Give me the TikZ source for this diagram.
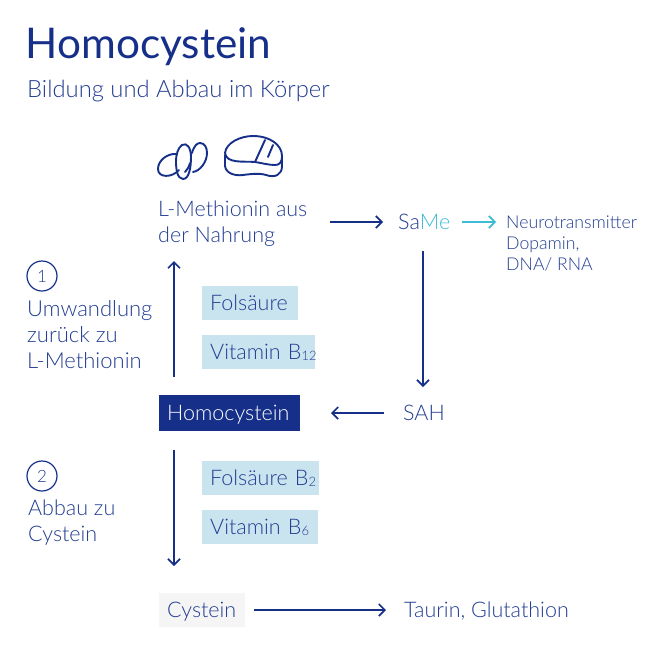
\documentclass[tikz,border=0pt]{standalone}
\usepackage{fontspec}
\setmainfont{Lato}[UprightFont=* Light,BoldFont=* Regular]
\usetikzlibrary{arrows.meta}
\definecolor{navy}{HTML}{16308A}
\definecolor{txt}{HTML}{233E92}
\definecolor{cyanl}{HTML}{3DBBD6}
\definecolor{boxb}{HTML}{C9E4EF}
\definecolor{boxg}{HTML}{F5F5F5}
\newcommand{\subn}[1]{\raisebox{-1.5pt}{\fontsize{13}{13}\selectfont #1}}
\tikzset{
 lbl/.style={anchor=west,inner sep=0pt,text=txt,font=\fontsize{21.5}{26}\selectfont,align=left},
 small/.style={anchor=west,inner sep=0pt,text=txt,font=\fontsize{17.7}{21}\selectfont,align=left},
 tbox/.style={anchor=west,inner ysep=0pt,inner xsep=8pt,align=left,font=\fontsize{21.5}{24}\selectfont,text height=17pt,text depth=3pt,text width=#1pt-16pt},
 vbox/.style={tbox=#1,fill=boxb,text=txt,minimum height=34pt},
 arr/.style={draw=navy,line width=1.7pt,-{Straight Barb[length=6pt,width=12pt,line width=1.7pt]}},
 carr/.style={draw=cyanl,line width=1.7pt,-{Straight Barb[length=6pt,width=12pt,line width=1.7pt]}},
 num/.style={circle,draw=navy,line width=1.2pt,minimum size=30pt,inner sep=0pt,text=txt,font=\fontsize{17}{20}\selectfont},
 icon/.style={draw=navy,line width=1.9pt,line join=round,line cap=round},
}
\begin{document}
\begin{tikzpicture}[x=1pt,y=-1pt]
\useasboundingbox (0,0) rectangle (664,664);
\fill[white] (0,0) rectangle (664,664);
\node[anchor=west,inner sep=0pt,text=navy,font=\bfseries\fontsize{42.3}{48}\selectfont] (title) at (25.5,47) {Homocystein};
\node[lbl,font=\fontsize{23.8}{26}\selectfont] (sub) at (27,91) {Bildung und Abbau im Körper};

% food icons
\draw[icon] (177,154) .. controls (168,153) and (158,160) .. (158,169) .. controls (158,178) and (172,178) .. (179,170);
\draw[icon] (182,145) .. controls (187,142) and (191,148) .. (191,157) .. controls (191,168) and (189,179) .. (183,179) .. controls (177,179) and (176,168) .. (176,162) .. controls (176,154) and (178,148) .. (182,145) -- cycle;
\draw[icon] (192,153) .. controls (194,146) and (197,143) .. (200,143) .. controls (205,143) and (207,148) .. (207,153) .. controls (207,162) and (200,171) .. (193,172);
\draw[icon] (190,163) .. controls (189,167) and (187,170) .. (185,172);
\draw[icon] (225,153) .. controls (226,143) and (240,136) .. (253,136) .. controls (270,136) and (282,145) .. (282,156) .. controls (282,163) and (279,165) .. (275,165) .. controls (268,165) and (262,163) .. (255,162) .. controls (245,161) and (226,164) .. (225,153) -- cycle;
\draw[icon] (225,155) -- (225,166) .. controls (226,174) and (236,176) .. (243,175) .. controls (250,174) and (260,173) .. (266,175) .. controls (275,178) and (282,175) .. (282,166) -- (282,156);
\draw[icon] (265,140) -- (255,162);
\draw[icon] (273,145) -- (268,157);

\node[lbl] (met) at (158,224) {L-Methionin aus\\der Nahrung};
\node[lbl] (same) at (398,222) {Sa\textcolor{cyanl}{Me}};
\node[small] (neuro) at (506,244) {Neurotransmitter\\Dopamin,\\DNA/ RNA};
\node[vbox=96] (fol) at (202,303) {\mbox{Folsäure}};
\node[vbox=113] (vb12) at (202,352) {\mbox{Vitamin B\subn{12}}};
\node[tbox=141,fill=navy,text=white,minimum height=36pt] (homo) at (159,413) {\mbox{Homocystein}};
\node[lbl] (sah) at (403,413) {SAH};
\node[num] (n1) at (42,276) {1};
\node[lbl,font=\fontsize{22}{26}\selectfont] (um) at (27,335) {Umwandlung\\zurück zu\\L-Methionin};
\node[num] (n2) at (42,476) {2};
\node[lbl] (ab) at (28,523) {Abbau zu\\Cystein};
\node[vbox=117] (folb) at (202,478) {\mbox{Folsäure B\subn{2}}};
\node[vbox=116] (vb6) at (202,527) {\mbox{Vitamin B\subn{6}}};
\node[tbox=86,fill=boxg,text=txt,minimum height=34pt] (cys) at (159,610) {\mbox{Cystein}};
\node[lbl] (tau) at (404,611) {Taurin, Glutathion};

\coordinate (a1s) at (330,222); \coordinate (a1e) at (383,222);
\coordinate (a2s) at (462,222); \coordinate (a2e) at (496,222);
\coordinate (a3s) at (423,251); \coordinate (a3e) at (423,387);
\coordinate (a4s) at (384,413); \coordinate (a4e) at (331,413);
\coordinate (a5s) at (174,377); \coordinate (a5e) at (174,261);
\coordinate (a6s) at (174,450); \coordinate (a6e) at (174,566);
\coordinate (a7s) at (254,610); \coordinate (a7e) at (386,610);
\draw[arr] (a1s) -- (a1e);
\draw[carr] (a2s) -- (a2e);
\draw[arr] (a3s) -- (a3e);
\draw[arr] (a4s) -- (a4e);
\draw[arr] (a5s) -- (a5e);
\draw[arr] (a6s) -- (a6e);
\draw[arr] (a7s) -- (a7e);
\end{tikzpicture}
\end{document}
